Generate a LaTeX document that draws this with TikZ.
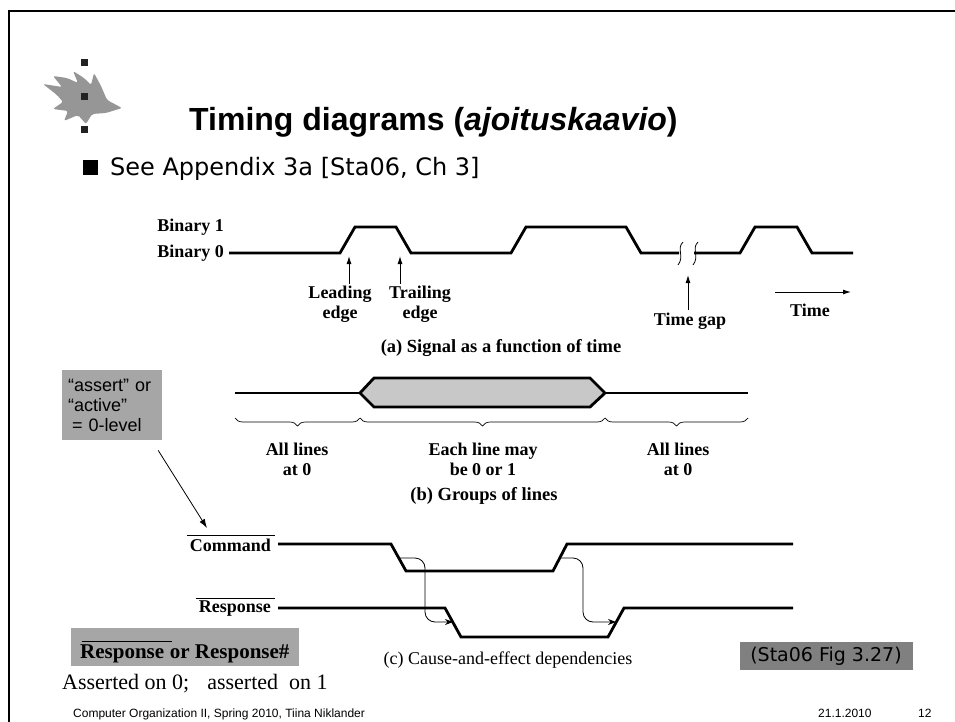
\documentclass[tikz,border=0pt]{standalone}
\usepackage{fontspec}
\setmainfont{Liberation Serif}
\newfontfamily\arial{Liberation Sans}
\newfontfamily\dvs{DejaVu Sans}
\usetikzlibrary{arrows.meta,decorations.pathreplacing,calc}
\definecolor{boxgray}{RGB}{166,166,166}
\definecolor{darkbox}{RGB}{128,128,128}
\definecolor{hexfill}{RGB}{200,200,200}
\definecolor{flame}{RGB}{150,150,150}
\definecolor{sq}{RGB}{34,34,34}
\begin{document}
\begin{tikzpicture}[x=1pt,y=-1pt,
  sig/.style={line width=2.8pt, line join=miter},
  arr/.style={line width=1pt, -{Latex[length=8pt,width=5pt]}},
  carr/.style={line width=0.8pt, rounded corners=10pt, -{Stealth[length=8pt,width=6pt]}},
  fig/.style={inner sep=0, align=center, font=\bfseries\fontsize{18}{20}\selectfont},
  captxt/.style={inner sep=0, font=\bfseries\fontsize{18.5}{20}\selectfont},
  brc/.style={decorate, decoration={brace, mirror, amplitude=8pt}, line width=0.7pt},
  sqr/.style={fill=sq, minimum width=7pt, minimum height=7pt, inner sep=0},
  ovl/.style={line width=0.8pt},
]
\useasboundingbox (0,0) rectangle (955,722);
\fill[white] (0,0) rectangle (955,722);
% frame
\draw[line width=2.2pt] (9,722) -- (9,11) -- (955,11);
% logo
\fill[flame, rounded corners=2pt] (122,108) -- (107,100) -- (101,86) -- (94,73) -- (91,85) -- (84,78) -- (73,71) -- (78,83) -- (67,78) -- (53,76) -- (62,87) -- (43,84) -- (57,95) -- (63,102) -- (53,109) -- (68,111) -- (64,121) -- (78,115) -- (86,124) -- (92,114) -- (106,113) -- cycle;
\node[sqr] (s1) at (84,63) {};
\node[sqr] (s2) at (84,97) {};
\node[sqr] (s3) at (84,130) {};
% title
\node[anchor=base west, inner sep=0, font=\arial\bfseries\fontsize{32}{34}\selectfont] (title) at (189,131) {Timing diagrams (\textit{ajoituskaavio})};
\node[fill=black, minimum width=15pt, minimum height=15pt, inner sep=0] (bullet) at (90,168) {};
\node[anchor=base west, inner sep=0, font=\dvs\fontsize{24}{26}\selectfont] (see) at (110,176) {See Appendix 3a [Sta06, Ch 3]};
% (a)
\node[fig, anchor=east] (bin1) at (224,227) {Binary 1};
\node[fig, anchor=east] (bin0) at (224,253) {Binary 0};
\draw[sig] ($(bin0.east)+(5,0)$) -- (340,253) -- (355,227) -- (396,227) -- (411,253) -- (511,253) -- (526,227) -- (626,227) -- (641,253) -- (679,253);
\draw[sig] (694,253) -- (740,253) -- (755,227) -- (797,227) -- (812,253) -- (853,253);
\draw[line width=0.8pt] (683,242) .. controls (676,249) and (685,256) .. (678,265);
\draw[line width=0.8pt] (698,242) .. controls (691,249) and (700,256) .. (693,265);
\node[fig] (lead) at (340,304) {Leading\\edge};
\node[fig] (trail) at (420,304) {Trailing\\edge};
\coordinate (leadTip) at (349,256);
\coordinate (trailTip) at (400,256);
\draw[arr] (leadTip |- lead.north) ++(0,-2) -- (leadTip);
\draw[arr] (trailTip |- trail.north) ++(0,-2) -- (trailTip);
\node[fig] (gap) at (690,321) {Time gap};
\coordinate (gapTip) at (688,275);
\draw[arr] ($(gap.north)+(-2,-3)$) -- (gapTip);
\node[fig] (time) at (810,310) {Time};
\coordinate (t0) at (775,292);
\coordinate (t1) at (851,292);
\draw[arr] (t0) -- (t1);
\node[captxt] (capa) at (501,348) {(a) Signal as a function of time};
% (b)
\draw[sig] (235,393) -- (360,393);
\draw[sig, fill=hexfill] (360,393) -- (374,378) -- (590,378) -- (605,393) -- (590,407) -- (374,407) -- cycle;
\draw[sig] (605,393) -- (748,393);
\draw[brc] (235,418) -- (360,418);
\draw[brc] (360,418) -- (605,418);
\draw[brc] (605,418) -- (748,418);
\node[fig] (all1) at (297,459) {All lines\\at 0};
\node[fig] (each) at (483,459) {Each line may\\be 0 or 1};
\node[fig] (all2) at (678,459) {All lines\\at 0};
\node[captxt] (capb) at (484,496) {(b) Groups of lines};
% callout
\node[fill=boxgray, anchor=north west, minimum width=100pt, minimum height=70pt, inner sep=6pt, text width=88pt, align=left, font=\arial\fontsize{18}{20}\selectfont] (assert) at (62,370) {“assert” or\\“active”\\\hspace*{4pt}= 0-level};
\coordinate (cmdOL) at (207,528);
\draw[line width=0.8pt, -{Latex[length=9pt,width=6pt]}] ($(assert.south)+(46,10)$) -- (cmdOL);
% (c)
\node[fig, anchor=east] (cmd) at (271,545) {Command};
\node[fig, anchor=east] (resp) at (271,609) {Response};
\draw[ovl] ($(cmd.north west)+(-3,-3)$) -- ($(cmd.north east)+(4,-3)$);
\draw[ovl] ($(resp.north west)+(-3,-3)$) -- ($(resp.north east)+(4,-3)$);
\draw[sig] ($(cmd.east)+(7,-1)$) -- (391,544) -- (406,571) -- (553,571) -- (567,544) -- (793,544);
\draw[sig] ($(resp.east)+(7,-1)$) -- (445,608) -- (461,637) -- (608,637) -- (624,608) -- (793,608);
\coordinate (c1) at (399,558);
\coordinate (r1) at (453,622);
\coordinate (c2) at (560,558);
\coordinate (r2) at (616,622);
\draw[carr] (c1) -| (425,622) -- (r1);
\draw[carr] (c2) -| (583,622) -- (r2);
\node[inner sep=0, font=\fontsize{18}{20}\selectfont] (capc) at (508,660) {(c) Cause-and-effect dependencies};
% bottom notes
\node[fill=boxgray, anchor=north west, minimum width=228pt, minimum height=38pt, inner sep=0] (rbox) at (71,628) {};
\node[anchor=base west, inner sep=0, font=\bfseries\fontsize{21}{23}\selectfont] (rword) at (80,658) {Response};
\node[anchor=base west, inner sep=0, font=\bfseries\fontsize{21}{23}\selectfont] (rrest) at (rword.base east) {\ or Response\#};
\draw[ovl] ($(rword.north west)+(2,-3)$) -- ($(rword.north east)+(8,-3)$);
\node[anchor=base west, inner sep=0, font=\fontsize{22}{24}\selectfont] (asserted) at (62,689) {Asserted on 0;\hspace{18pt}asserted\hspace{11pt}on 1};
\node[fill=darkbox, minimum width=173pt, minimum height=28pt, inner sep=0, font=\dvs\fontsize{19}{21}\selectfont] (sta) at (826,656) {(Sta06 Fig 3.27)};
% footer
\node[anchor=base west, inner sep=0, font=\arial\fontsize{12}{14}\selectfont] (foot) at (73,717) {Computer Organization II, Spring 2010, Tiina Niklander};
\node[anchor=base west, inner sep=0, font=\arial\fontsize{12}{14}\selectfont] (date) at (818,717) {21.1.2010};
\node[anchor=base west, inner sep=0, font=\arial\fontsize{12}{14}\selectfont] (page) at (918,717) {12};
\end{tikzpicture}
\end{document}
